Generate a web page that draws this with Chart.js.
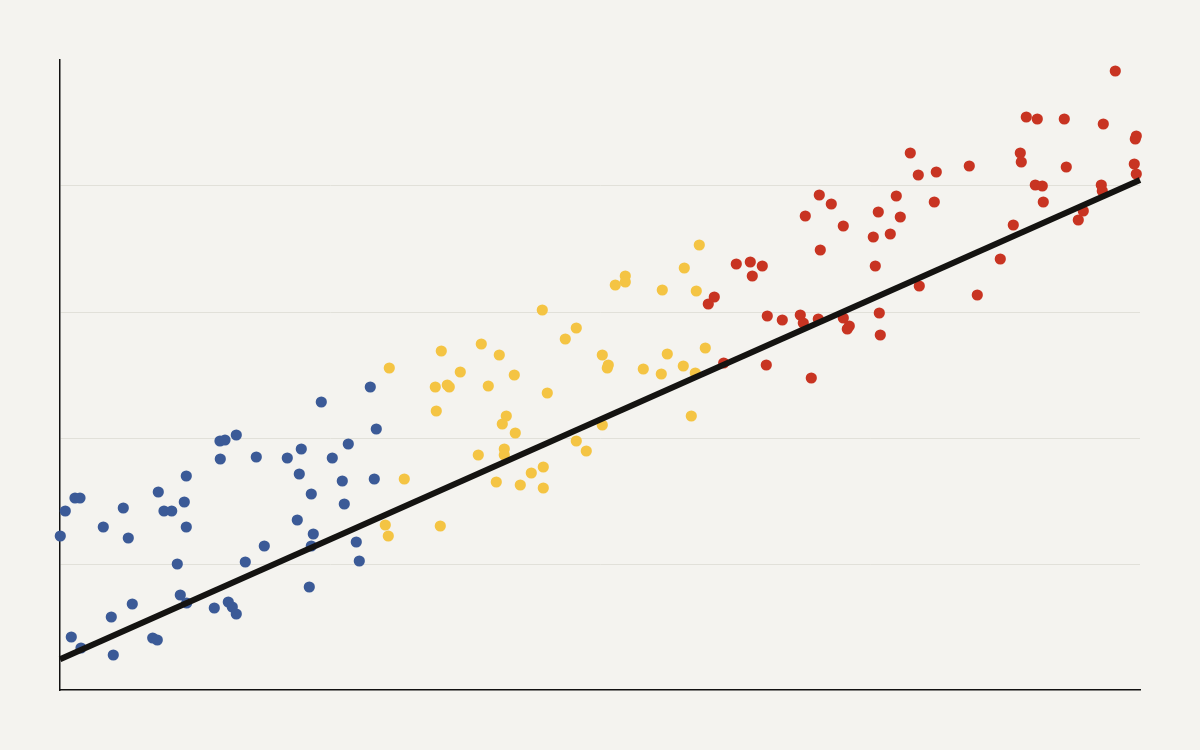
<!DOCTYPE html>
<html>
<head>
<meta charset="utf-8">
<title>Scatter with trend</title>
<script src="https://cdn.jsdelivr.net/npm/chart.js@4/dist/chart.umd.min.js"></script>
<style>
  html, body { margin: 0; padding: 0; background: #f4f3ef; }
  #wrap { width: 1200px; height: 750px; }
</style>
</head>
<body>
<div id="wrap"><canvas id="chart" width="1200" height="750"></canvas></div>
<script>
// values (x: 0..1080, y: 0..630, grid every 126)
const blueX = [0.3, 5.3, 15, 20, 11.3, 21, 43.3, 53.3, 51.3, 63.3, 68.3, 72.3, 98.3, 104, 111.7, 92.7, 97.3,
  117.3, 120.3, 126.7, 124.3, 126.3, 126.3, 160, 165, 160.3, 176.3, 154.3, 168.3, 172.3, 176.3, 185.3, 196.3,
  204.3, 227.3, 237.3, 239.3, 241.3, 251.3, 253.3, 251.3, 249.3, 261.3, 272.3, 282.3, 284.3, 288.3, 296.3,
  299.3, 314.3, 316.3, 310.3];
const blueY = [154, 179, 192, 192, 53, 42, 163, 35, 73, 182, 152, 86, 198, 179, 179, 52, 50,
  126, 95, 87, 188, 214, 163, 249, 250, 231, 255, 82, 88, 83, 76, 128, 233,
  144, 232, 170, 216, 241, 196, 156, 144, 103, 288, 232, 209, 186, 246, 148,
  129, 211, 261, 303];

const yellowX = [329.3, 344.3, 325.3, 328.3, 380.3, 381.3, 375.3, 376.3, 387.3, 389.3, 400.3, 421.3, 428.3,
  439.3, 454.3, 446.3, 442.3, 455.3, 418.3, 444.3, 444.3, 436.3, 460.3, 471.3, 483.3, 483.3, 482.3, 487.3,
  505.3, 516.3, 516.3, 526.3, 542.3, 548.3, 547.3, 542.3, 555.3, 565.3, 565.3, 583.3, 601.3, 602.3, 607.3,
  623.3, 635.3, 631.3, 636.3, 624.3, 639.3, 645.3];
const yellowY = [322, 211, 165, 154, 164, 339, 303, 279, 305, 303, 318, 346, 304,
  335, 315, 274, 266, 257, 235, 241, 235, 208, 205, 217, 223, 202, 380, 297,
  351, 362, 249, 239, 335, 325, 322, 265, 405, 414, 408, 321, 316, 400, 336,
  324, 317, 274, 399, 422, 445, 342];

const redX = [676.3, 690.3, 702.3, 692.3, 654.3, 648.3, 663.7, 707.3, 722.3, 706.3, 740.3, 743.3, 758.3,
  751.3, 745.3, 759.3, 771.3, 760.3, 783.3, 783.3, 789.3, 787.3, 813.3, 818.3, 815.3, 819.3, 820.3, 830.3,
  836.3, 840.3, 850.3, 858.3, 876.3, 874.3, 859.3, 909.3, 917.3, 940.3, 953.3, 960.3, 961.3, 966.3, 977.3,
  975.3, 982.3, 983.3, 1004.3, 1006.3, 1018.3, 1023.3, 1041.3, 1042.3, 1043.3, 1055.3, 1076.3, 1075.3,
  1074.3, 1076.3];
const redY = [426, 428, 424, 414, 393, 386, 327, 374, 370, 325, 375, 367, 371,
  312, 474, 495, 486, 440, 464, 372, 364, 361, 453, 478, 424, 377, 355, 456,
  494, 473, 537, 515, 518, 488, 404, 524, 395, 431, 465, 537, 528, 573, 571,
  505, 504, 488, 571, 523, 470, 479, 505, 499, 566, 619, 554, 551, 526, 516];

const trendX = [0, 1080];
const trendY = [30.7, 510];

function toPoints(xs, ys) {
  return xs.map((x, i) => ({ x: x, y: ys[i] }));
}

function scatterSet(xs, ys, color) {
  return {
    type: 'scatter',
    data: toPoints(xs, ys),
    backgroundColor: color,
    borderWidth: 0,
    pointRadius: 5.6,
    pointHoverRadius: 5.6,
    clip: false,
    order: 1
  };
}

const ctx = document.getElementById('chart').getContext('2d');
new Chart(ctx, {
  type: 'scatter',
  data: {
    datasets: [
      {
        type: 'line',
        data: toPoints(trendX, trendY),
        borderColor: '#141311',
        borderWidth: 6,
        pointRadius: 0,
        fill: false,
        clip: false,
        order: 0
      },
      scatterSet(blueX, blueY, '#3b5a97'),
      scatterSet(yellowX, yellowY, '#f4c443'),
      scatterSet(redX, redY, '#c83422')
    ]
  },
  options: {
    responsive: false,
    devicePixelRatio: 1,
    animation: false,
    events: [],
    layout: { padding: { left: 60, right: 60, top: 60, bottom: 60 } },
    plugins: {
      legend: { display: false },
      tooltip: { enabled: false }
    },
    scales: {
      x: {
        type: 'linear',
        min: 0,
        max: 1080,
        ticks: { display: false },
        grid: { display: false, drawTicks: false },
        border: { display: true, color: '#111111', width: 1.5 }
      },
      y: {
        type: 'linear',
        min: 0,
        max: 630,
        ticks: { display: false, stepSize: 126 },
        grid: {
          drawTicks: false,
          color: (c) => (c.tick && c.tick.value > 0 && c.tick.value < 630) ? '#e1e0d9' : 'rgba(0,0,0,0)',
          lineWidth: 1
        },
        border: { display: true, color: '#111111', width: 1.5 }
      }
    }
  },
  plugins: [{
    id: 'bg',
    beforeDraw(chart) {
      const c = chart.ctx;
      c.save();
      c.fillStyle = '#f4f3ef';
      c.fillRect(0, 0, chart.width, chart.height);
      c.restore();
    }
  }]
});
</script>
</body>
</html>
